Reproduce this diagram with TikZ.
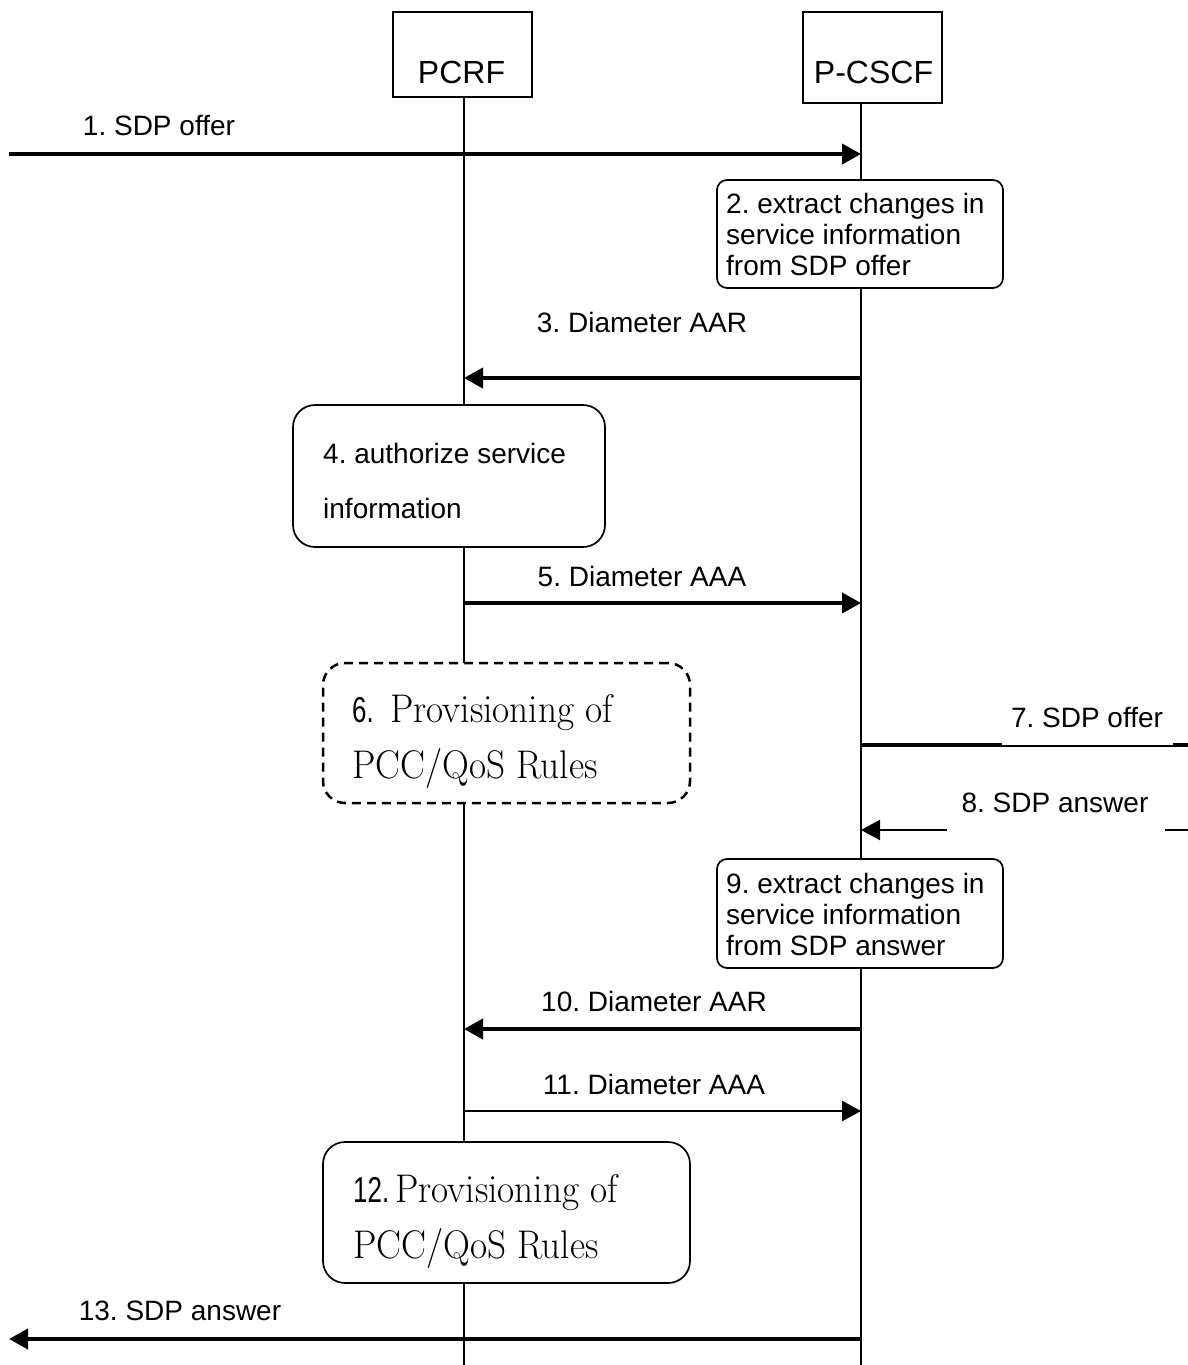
\documentclass[tikz,border=0pt]{standalone}
\usepackage{fontspec}
\newfontfamily\arial{Liberation Sans}
\usetikzlibrary{arrows.meta}
\begin{document}
\frenchspacing
\begin{tikzpicture}[x=1pt,y=-1pt,
  ent/.style={draw,line width=1.7pt,inner sep=0pt,fill=white},
  enttext/.style={anchor=base,inner sep=0pt,font=\arial\fontsize{32}{36}\selectfont},
  life/.style={line width=1.8pt},
  proc/.style={draw,line width=1.7pt,fill=white,inner sep=0pt,rounded corners=10pt},
  bigproc/.style={draw,line width=1.7pt,fill=white,inner sep=0pt,rounded corners=22pt},
  dproc/.style={bigproc,line width=2.5pt,dash pattern=on 9pt off 6pt},
  btext/.style={anchor=base west,inner sep=0pt,font=\arial\fontsize{28}{32}\selectfont},
  stext/.style={anchor=base west,inner sep=0pt},
  msg/.style={line width=4pt,-{Triangle[length=19pt,width=20pt]}},
  msgthin/.style={line width=2.5pt,-{Triangle[length=19pt,width=20pt]}},
  plain/.style={line width=4pt},
  plainthin/.style={line width=2.3pt},
  lbl/.style={anchor=base,inner sep=0pt,font=\arial\fontsize{28}{32}\selectfont}]
\newcommand{\serifline}[1]{\scalebox{0.93}[1]{\fontsize{40}{44}\selectfont #1}}
\newcommand{\sansnum}[1]{\scalebox{0.72}[1]{\arial\fontsize{36}{40}\selectfont #1}}
% canvas
\path[fill=white,use as bounding box] (0,0) rectangle (1188,1365);
% entities
\node[ent,minimum width=139pt,minimum height=85pt] (pcrf) at (462.5,54.5) {};
\node[enttext] (pcrft) at (461.5,83) {PCRF};
\node[ent,minimum width=139pt,minimum height=91pt] (pcscf) at (872.5,57.5) {};
\node[enttext] (pcscft) at (873.5,83) {P-CSCF};
% lifelines
\coordinate (ltop) at (464,97);
\coordinate (lbot) at (464,1365);
\coordinate (rtop) at (861,103);
\coordinate (rbot) at (861,1365);
\draw[life] (ltop) -- (lbot);
\draw[life] (rtop) -- (rbot);
% message end points
\coordinate (m1a) at (9,154);   \coordinate (m1b) at (861,154);
\coordinate (m3a) at (861,378); \coordinate (m3b) at (464,378);
\coordinate (m5a) at (464,603); \coordinate (m5b) at (861,603);
\coordinate (m7a) at (861,745); \coordinate (m7b) at (1002,745);
\coordinate (m7c) at (1002,746); \coordinate (m7d) at (1173,746);
\coordinate (m7e) at (1173,745); \coordinate (m7f) at (1188,745);
\coordinate (m8a) at (947,830); \coordinate (m8b) at (861,830);
\coordinate (m8c) at (1165,830); \coordinate (m8d) at (1188,830);
\coordinate (m10a) at (861,1029); \coordinate (m10b) at (464,1029);
\coordinate (m11a) at (464,1111); \coordinate (m11b) at (861,1111);
\coordinate (m13a) at (861,1339); \coordinate (m13b) at (9,1339);
% process boxes
\node[proc,minimum width=286pt,minimum height=108pt] (b2) at (860,234) {};
\node[btext] (b2a) at (726,213) {2. extract changes in};
\node[btext] (b2b) at (726,244) {service information};
\node[btext] (b2c) at (726,275) {from SDP offer};
\node[bigproc,minimum width=312pt,minimum height=142pt] (b4) at (449,476) {};
\node[btext] (b4a) at (323,463) {4. authorize service};
\node[btext] (b4b) at (323,518) {information};
\node[dproc,minimum width=367pt,minimum height=140pt] (b6) at (506.5,733) {};
\node[stext] (b6n) at (352,722) {\sansnum{6.}};
\node[stext] (b6a) at (390,722) {\serifline{Provisioning of}};
\node[stext] (b6b) at (352,778) {\serifline{PCC/QoS Rules}};
\node[proc,minimum width=286pt,minimum height=109pt] (b9) at (860,913.5) {};
\node[btext] (b9a) at (726,893) {9. extract changes in};
\node[btext] (b9b) at (726,924) {service information};
\node[btext] (b9c) at (726,955) {from SDP answer};
\node[bigproc,minimum width=367pt,minimum height=141pt] (b12) at (506.5,1212.5) {};
\node[stext] (b12n) at (353,1202) {\sansnum{12.}};
\node[stext] (b12a) at (395,1202) {\serifline{Provisioning of}};
\node[stext] (b12b) at (353,1258) {\serifline{PCC/QoS Rules}};
% messages
\draw[msg] (m1a) -- (m1b);
\draw[msg] (m3a) -- (m3b);
\draw[msg] (m5a) -- (m5b);
\draw[plain] (m7a) -- (m7b);
\draw[plainthin] (m7c) -- (m7d);
\draw[plain] (m7e) -- (m7f);
\draw[msgthin] (m8a) -- (m8b);
\draw[plainthin] (m8c) -- (m8d);
\draw[msg] (m10a) -- (m10b);
\draw[msgthin] (m11a) -- (m11b);
\draw[msg] (m13a) -- (m13b);
% labels
\node[lbl] (l1) at (159,135) {1. SDP offer};
\node[lbl] (l3) at (642,332) {3. Diameter AAR};
\node[lbl] (l5) at (642,586) {5. Diameter AAA};
\node[lbl] (l7) at (1087,727) {7. SDP offer};
\node[lbl] (l8) at (1055,812) {8. SDP answer};
\node[lbl] (l10) at (654,1011) {10. Diameter AAR};
\node[lbl] (l11) at (654,1094) {11. Diameter AAA};
\node[lbl] (l13) at (180,1320) {13. SDP answer};
\end{tikzpicture}
\end{document}
